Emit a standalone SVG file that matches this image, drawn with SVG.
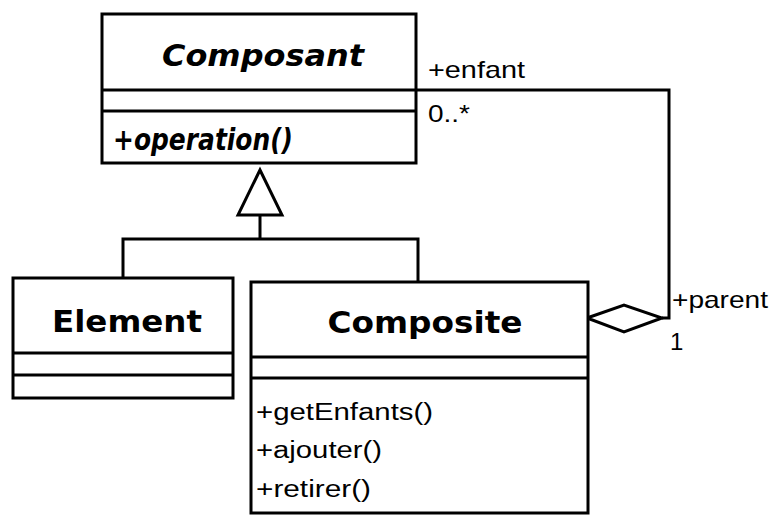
<svg xmlns="http://www.w3.org/2000/svg" width="769" height="516" viewBox="0 0 769 516">
  <style>
    .box { fill: #ffffff; stroke: #000000; stroke-width: 3; }
    .sep { stroke: #000000; stroke-width: 3; }
    .line { fill: none; stroke: #000000; stroke-width: 3; }
    .title { font-family: "DejaVu Sans", Verdana, sans-serif; font-weight: bold; font-size: 31px; fill: #000; }
    .abstract { font-style: italic; }
    .member { font-family: "Liberation Sans", Arial, sans-serif; font-size: 23px; fill: #000; }
    .role { font-family: "Liberation Sans", Arial, sans-serif; font-size: 24px; fill: #000; }
  </style>
  <rect width="769" height="516" fill="#ffffff"/>

  <!-- connectors -->
  <g id="connectors">
    <!-- generalization: Element and Composite to Composant -->
    <polyline class="line" points="123,278 123,239 418,239 418,282"/>
    <line class="line" x1="260" y1="215" x2="260" y2="239"/>
    <polygon class="box" points="260,170 238,215 282,215"/>
    <!-- aggregation: Composite (parent) to Composant (enfant) -->
    <polyline class="line" points="416,90 669,90 669,318 662,318"/>
    <polygon class="box" points="587,318 624,305 662,318 624,332"/>
    <text class="role" x="428" y="78" textLength="97" lengthAdjust="spacingAndGlyphs">+enfant</text>
    <text class="role" x="428" y="122" textLength="42" lengthAdjust="spacingAndGlyphs">0..*</text>
    <text class="role" x="672" y="308" textLength="96" lengthAdjust="spacingAndGlyphs">+parent</text>
    <text class="role" x="670" y="350">1</text>
  </g>

  <!-- Composant (abstract) -->
  <g id="composant">
    <rect class="box" x="102" y="14" width="314" height="149"/>
    <line class="sep" x1="102" y1="90" x2="416" y2="90"/>
    <line class="sep" x1="102" y1="111" x2="416" y2="111"/>
    <text class="title abstract" x="263" y="66" text-anchor="middle" textLength="202" lengthAdjust="spacingAndGlyphs">Composant</text>
    <text class="title abstract" x="113" y="150" font-size="23" textLength="180" lengthAdjust="spacingAndGlyphs">+operation()</text>
  </g>

  <!-- Element -->
  <g id="element">
    <rect class="box" x="13" y="278" width="220" height="120"/>
    <line class="sep" x1="13" y1="353" x2="233" y2="353"/>
    <line class="sep" x1="13" y1="375" x2="233" y2="375"/>
    <text class="title" x="127" y="332" text-anchor="middle" textLength="150" lengthAdjust="spacingAndGlyphs">Element</text>
  </g>

  <!-- Composite -->
  <g id="composite">
    <rect class="box" x="251" y="282" width="337" height="231"/>
    <line class="sep" x1="251" y1="357" x2="588" y2="357"/>
    <line class="sep" x1="251" y1="378" x2="588" y2="378"/>
    <text class="title" x="425" y="333" text-anchor="middle" textLength="195" lengthAdjust="spacingAndGlyphs">Composite</text>
    <text class="member" x="256" y="420" textLength="177" lengthAdjust="spacingAndGlyphs">+getEnfants()</text>
    <text class="member" x="256" y="458" textLength="126" lengthAdjust="spacingAndGlyphs">+ajouter()</text>
    <text class="member" x="256" y="497" textLength="115" lengthAdjust="spacingAndGlyphs">+retirer()</text>
  </g>
</svg>
